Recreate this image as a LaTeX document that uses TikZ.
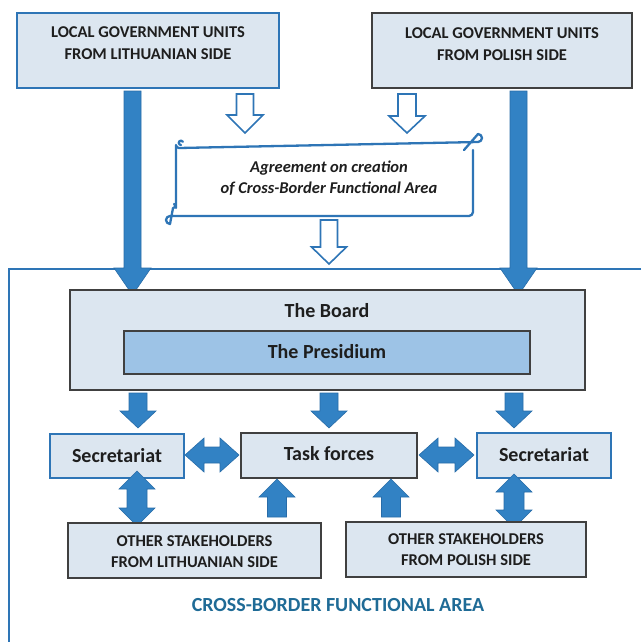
\documentclass[tikz,border=0pt]{standalone}
\usepackage{fontspec}
\setmainfont{Carlito}
\definecolor{boxfill}{RGB}{220,230,240}
\definecolor{presfill}{RGB}{157,195,230}
\definecolor{bluebd}{RGB}{46,117,182}
\definecolor{darkbd}{RGB}{64,64,64}
\definecolor{arrfill}{RGB}{50,130,196}
\definecolor{arrbd}{RGB}{40,108,168}
\definecolor{txt}{RGB}{30,30,30}
\definecolor{titlec}{RGB}{31,107,150}
\newcommand\vblk[7][blk]{\filldraw[#1] ({#2-#6},#3) -- ({#2+#6},#3) -- ({#2+#6},#4) -- ({#2+#7},#4) -- (#2,#5) -- ({#2-#7},#4) -- ({#2-#6},#4) -- cycle;}
\newcommand\vdbl[6]{\filldraw[blk] (#1,#2) -- ({#1+#5},{#2+#6}) -- ({#1+#4},{#2+#6}) -- ({#1+#4},{#3-#6}) -- ({#1+#5},{#3-#6}) -- (#1,#3) -- ({#1-#5},{#3-#6}) -- ({#1-#4},{#3-#6}) -- ({#1-#4},{#2+#6}) -- ({#1-#5},{#2+#6}) -- cycle;}
\newcommand\hdbl[6]{\filldraw[blk] (#2,#1) -- ({#2+#6},{#1-#5}) -- ({#2+#6},{#1-#4}) -- ({#3-#6},{#1-#4}) -- ({#3-#6},{#1-#5}) -- (#3,#1) -- ({#3-#6},{#1+#5}) -- ({#3-#6},{#1+#4}) -- ({#2+#6},{#1+#4}) -- ({#2+#6},{#1+#5}) -- cycle;}
\tikzset{
  blk/.style={fill=arrfill,draw=arrbd,line width=0.6pt,line join=miter},
  hollow/.style={fill=white,draw=bluebd,line width=1.6pt,line join=miter},
  boxb/.style={draw=bluebd,fill=boxfill,line width=1.3pt},
  boxd/.style={draw=darkbd,fill=boxfill,line width=1.3pt},
  scroll/.style={draw=bluebd,line width=2.3pt,line cap=round,line join=round},
  lab/.style={text=txt,font=\bfseries,align=center},
  small/.style={lab,font=\bfseries\fontsize{16.5}{22}\selectfont},
  big/.style={lab,font=\bfseries\fontsize{20}{22}\selectfont},
}
\begin{document}
\begin{tikzpicture}[x=1pt,y=-1pt]
\useasboundingbox (0,0) rectangle (641,642);
% frame
\draw[bluebd,line width=1.5pt] (641,269) -- (9,269) -- (9,642);
% top boxes
\draw[boxb] (17,13) rectangle (279,88);
\node[small] (ltop) at (148,43) {LOCAL GOVERNMENT UNITS\\FROM LITHUANIAN SIDE};
\draw[boxd] (372,13) rectangle (632,88);
\node[small] (ptop) at (502,44) {LOCAL GOVERNMENT UNITS\\FROM POLISH SIDE};
% hollow arrows
\vblk[hollow]{245}{94}{115}{133}{8.5}{18}
\vblk[hollow]{407}{94}{116}{133}{9}{18}
\vblk[hollow]{329}{220}{247}{264}{8.5}{17.5}
% scroll
\fill[white] (176,142) rectangle (473,216);
\draw[scroll] (176,208) -- (176,145) arc[start angle=180,end angle=90,radius=3] -- (478,142)
  arc[start angle=90,end angle=-90,radius=4] -- (464,150);
\draw[scroll] (473,150) -- (473,212) arc[start angle=0,end angle=90,radius=4] -- (170,216)
  arc[start angle=270,end angle=90,radius=4] -- (173,208) arc[start angle=90,end angle=-60,radius=2.2];
\draw[scroll] (181,145) arc[start angle=90,end angle=330,radius=2.2];
\node[lab,font=\bfseries\itshape\fontsize{16.5}{21}\selectfont] (agr) at (329,178) {Agreement on creation\\of Cross-Border Functional Area};
% big arrows from top
\vblk{132.5}{91}{268}{295}{8.5}{18.5}
\vblk{518.5}{91}{268}{295}{8.5}{18.5}
% board
\draw[boxd] (70,290) rectangle (585,390);
\node[big] (board) at (327,311) {The Board};
\draw[draw=darkbd,fill=presfill,line width=1.3pt] (124,331) rectangle (530,374);
\node[big] (pres) at (327,352) {The Presidium};
% arrows down from board
\vblk{138}{393}{411}{428}{9}{18}
\vblk{329}{393}{411}{428}{9}{18}
\vblk{514}{393}{411}{428}{9}{18}
% secretariats, task forces
\draw[boxb] (50,434) rectangle (184,478);
\node[big] (secl) at (117,456) {Secretariat};
\draw[boxd] (241,433) rectangle (417,478);
\node[big] (task) at (329,454) {Task forces};
\draw[boxb] (477,433) rectangle (611,478);
\node[big] (secr) at (544,455) {Secretariat};
% horizontal double arrows
\hdbl{455}{185}{239}{8}{17}{19}
\hdbl{455}{419}{474}{8}{17}{19}
% vertical double arrows
\vdbl{137}{471}{526}{10}{18}{18}
\vdbl{514}{474}{528}{10}{18}{18}
% up arrows
\vblk{277}{517}{497}{479}{9.5}{18}
\vblk{391}{517}{497}{479}{9.5}{18}
% bottom boxes
\draw[boxd] (68,523) rectangle (321,578);
\node[lab,font=\bfseries\fontsize{16.5}{21}\selectfont] (osl) at (194.5,552) {OTHER STAKEHOLDERS\\FROM LITHUANIAN SIDE};
\draw[boxd] (346,522) rectangle (586,577);
\node[lab,font=\bfseries\fontsize{16.5}{21}\selectfont] (osp) at (466,550) {OTHER STAKEHOLDERS\\FROM POLISH SIDE};
% title
\node[font=\bfseries\fontsize{20}{22}\selectfont,text=titlec] (title) at (338,605) {CROSS-BORDER FUNCTIONAL AREA};
\end{tikzpicture}
\end{document}
